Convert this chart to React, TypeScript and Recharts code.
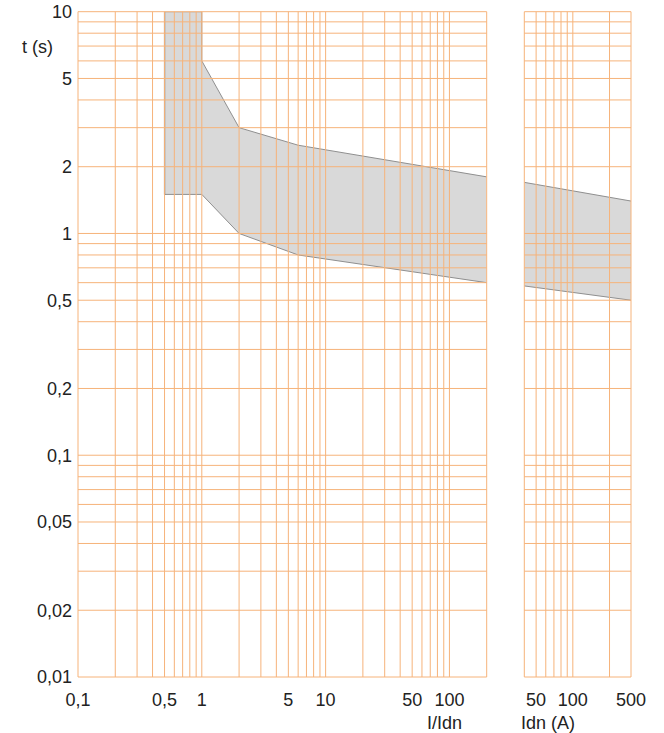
import React from 'react';
import { ComposedChart, Area, Line, XAxis, YAxis, ReferenceLine } from 'recharts';

// Tripping-time band of the residual current device, log/log
const BAND_I = [0.5, 1, 1, 2, 6, 200];
const BAND_LOW = [1.5, 1.5, 1.5, 1, 0.8, 0.6];
const BAND_HIGH = [10, 10, 6, 3, 2.5, 1.8];

// Same band against the rated current Idn (A)
const IDN_A = [40, 300];
const IDN_LOW = [0.58, 0.5];
const IDN_HIGH = [1.7, 1.4];

// Vertical left edge of the band at 0,5 x Idn
const EDGE_I = [0.5, 0.5];
const EDGE_T = [1.5, 10];

const Y_TICKS = [0.01, 0.02, 0.05, 0.1, 0.2, 0.5, 1, 2, 5, 10];
const Y_LABELS = ['0,01', '0,02', '0,05', '0,1', '0,2', '0,5', '1', '2', '5', '10'];

const X_TICKS = [0.1, 0.5, 1, 5, 10, 50, 100];
const X_LABELS = ['0,1', '0,5', '1', '5', '10', '50', '100'];

const IDN_TICKS = [50, 100, 300];
const IDN_LABELS = ['50', '100', '500'];

const GRID_X = [
  0.1, 0.2, 0.3, 0.4, 0.5, 0.6, 0.7, 0.8, 0.9,
  1, 2, 3, 4, 5, 6, 7, 8, 9,
  10, 20, 30, 40, 50, 60, 70, 80, 90,
  100, 200,
];
const GRID_IDN = [40, 50, 60, 70, 80, 90, 100, 200, 300];
const GRID_Y = [
  0.01, 0.02, 0.03, 0.04, 0.05, 0.06, 0.07, 0.08, 0.09,
  0.1, 0.2, 0.3, 0.4, 0.5, 0.6, 0.7, 0.8, 0.9,
  1, 2, 3, 4, 5, 6, 7, 8, 9, 10,
];

const bandData = BAND_I.map((i, k) => ({ i, range: [BAND_LOW[k], BAND_HIGH[k]] }));
const idnData = IDN_A.map((i, k) => ({ i, range: [IDN_LOW[k], IDN_HIGH[k]] }));
const edgeData = EDGE_I.map((i, k) => ({ i, t: EDGE_T[k] }));

const FONT = '"Liberation Sans", Arial, sans-serif';
const TEXT = '#222222';
const GRID = '#f6b37a';
const tickStyle = { fontSize: 18, fill: TEXT, fontFamily: FONT };

const labelFor = (ticks: number[], labels: string[]) => (v: number) => {
  const k = ticks.indexOf(v);
  return k >= 0 ? labels[k] : '';
};

const App: React.FC = () => {
  return (
    <div style={{ position: 'absolute', left: 0, top: 0, width: 664, height: 733, background: '#fff' }}>
      <div style={{ position: 'absolute', left: 0, top: 0 }}>
        <ComposedChart width={500} height={733} data={bandData} margin={{ top: 11.7, right: 13.3, left: 0, bottom: 0 }}>
          <XAxis
            dataKey="i"
            type="number"
            scale="log"
            domain={[0.1, 200]}
            allowDataOverflow
            ticks={X_TICKS}
            interval={0}
            tickFormatter={labelFor(X_TICKS, X_LABELS)}
            tick={tickStyle}
            tickLine={false}
            axisLine={false}
            tickSize={6}
            tickMargin={10}
            height={56}
          />
          <YAxis
            type="number"
            scale="log"
            domain={[0.01, 10]}
            allowDataOverflow
            ticks={Y_TICKS}
            interval={0}
            tickFormatter={labelFor(Y_TICKS, Y_LABELS)}
            tick={tickStyle}
            tickLine={false}
            axisLine={false}
            tickSize={4}
            tickMargin={2}
            width={78}
          />
          <Area
            type="linear"
            dataKey="range"
            stroke="#8f8f8f"
            strokeWidth={1}
            fill="#d9d9d9"
            fillOpacity={1}
            isAnimationActive={false}
            dot={false}
            activeDot={false}
          />
          <Line
            data={edgeData}
            type="linear"
            dataKey="t"
            stroke="#555555"
            strokeWidth={1.2}
            dot={false}
            activeDot={false}
            isAnimationActive={false}
          />
          {GRID_X.map((v) => (
            <ReferenceLine key={`gx-${v}`} x={v} stroke={GRID} strokeWidth={1} />
          ))}
          {GRID_Y.map((v) => (
            <ReferenceLine key={`gy-${v}`} y={v} stroke={GRID} strokeWidth={1} />
          ))}
        </ComposedChart>
      </div>

      <div style={{ position: 'absolute', left: 500, top: 0 }}>
        <ComposedChart width={164} height={733} data={idnData} margin={{ top: 11.7, right: 33, left: 24.3, bottom: 0 }}>
          <XAxis
            dataKey="i"
            type="number"
            scale="log"
            domain={[40, 300]}
            allowDataOverflow
            ticks={IDN_TICKS}
            interval={0}
            tickFormatter={labelFor(IDN_TICKS, IDN_LABELS)}
            tick={tickStyle}
            tickLine={false}
            axisLine={false}
            tickSize={6}
            tickMargin={10}
            height={56}
          />
          <YAxis type="number" scale="log" domain={[0.01, 10]} allowDataOverflow hide />
          <Area
            type="linear"
            dataKey="range"
            stroke="#8f8f8f"
            strokeWidth={1}
            fill="#d9d9d9"
            fillOpacity={1}
            isAnimationActive={false}
            dot={false}
            activeDot={false}
          />
          {GRID_IDN.map((v) => (
            <ReferenceLine key={`ga-${v}`} x={v} stroke={GRID} strokeWidth={1} />
          ))}
          {GRID_Y.map((v) => (
            <ReferenceLine key={`gay-${v}`} y={v} stroke={GRID} strokeWidth={1} />
          ))}
        </ComposedChart>
      </div>

      <svg width={664} height={733} style={{ position: 'absolute', left: 0, top: 0, pointerEvents: 'none' }}>
        <text x={22} y={53} fontSize={18} fill={TEXT} fontFamily={FONT}>t (s)</text>
        <text x={427} y={729} fontSize={18} fill={TEXT} fontFamily={FONT}>I/Idn</text>
        <text x={521} y={729} fontSize={18} fill={TEXT} fontFamily={FONT}>Idn (A)</text>
      </svg>
    </div>
  );
};

export default App;
